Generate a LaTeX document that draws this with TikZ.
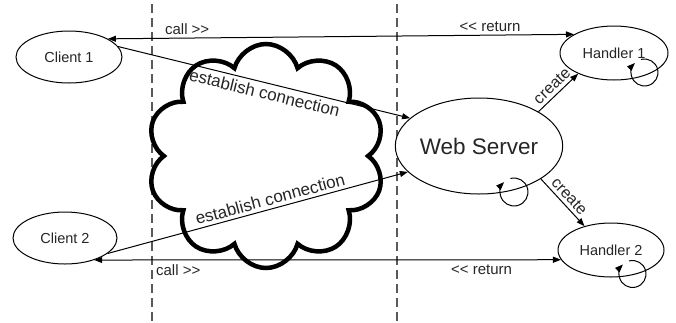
\documentclass[tikz,border=0pt]{standalone}
\usepackage{fontspec}
\setmainfont{Liberation Sans}
\usetikzlibrary{arrows.meta,shapes.geometric,shapes.symbols}

\tikzset{
  ent/.style={draw,ellipse,line width=1pt,fill=white,inner sep=0pt,
              text=black!85},
  sep/.style={draw=black!65,line width=1.5pt,dash pattern=on 9pt off 5pt},
  lbl/.style={font=\fontsize{15}{18}\selectfont,text=black!85},
}

\begin{document}
\begin{tikzpicture}[x=1pt,y=-1pt,line width=1pt,
                    >={Triangle[length=8pt,width=6pt]},
                    every node/.style={font=\fontsize{14.5}{17}\selectfont}]
\useasboundingbox (0,0) rectangle (676,322);

% client/server split
\draw[sep] (152,4) -- (152,322);
\draw[sep] (397,4) -- (397,322);

\node[cloud,cloud puffs=10,cloud puff arc=150,aspect=1.05,draw,fill=white,
      line width=4.5pt,minimum width=238pt,minimum height=224pt] (net) at (266,156) {};

\node[ent,minimum width=106pt,minimum height=52pt] (c1) at (69,57) {Client 1};
\node[ent,minimum width=104pt,minimum height=52pt] (c2) at (65,238) {Client 2};
\node[ent,minimum width=108pt,minimum height=54pt] (h1) at (614,53) {Handler 1};
\node[ent,minimum width=106pt,minimum height=54pt] (h2) at (611,250) {Handler 2};
\node[ent,minimum width=146pt,minimum height=96pt,
      font=\fontsize{22.5}{26}\selectfont] (ws) at (479,146) {Web Server};

\draw
(c1.25) edge[<->] node[lbl,pos=.17,above=0pt]{call >{}>}
                  node[lbl,pos=.82,above=0pt]{<{}< return} (h1.155)
(c2.-37) edge[<->] node[lbl,pos=.18,below=1pt]{call >{}>}
                   node[lbl,pos=.83,below=1pt]{<{}< return} (h2.191)

(c1.12) edge[->] node[lbl,font=\fontsize{17}{20}\selectfont,pos=.51,sloped,below=0pt]
                 {establish connection} (ws.158)
(c2.-20) edge[->] node[lbl,font=\fontsize{17}{20}\selectfont,pos=.55,sloped,above=0pt]
                 {establish connection} (ws.200)

(ws.30) edge[->] node[lbl,font=\fontsize{16}{19}\selectfont,midway,sloped,above=0pt]
                 {create} (h1.210)
(ws.-28) edge[->] node[lbl,font=\fontsize{16}{19}\selectfont,midway,sloped,above=0pt]
                 {create} (h2.138)
;

% self loops
\draw[->] ([shift={(30.5,19.5)}]h1.center) ++(-105:13.5)
  arc[start angle=-105,end angle=225,radius=13.5];
\draw[->] ([shift={(35,46)}]ws.center) ++(-105:14)
  arc[start angle=-105,end angle=225,radius=14];
\draw[->] ([shift={(21.5,24)}]h2.center) ++(-105:13.5)
  arc[start angle=-105,end angle=225,radius=13.5];
\end{tikzpicture}
\end{document}
